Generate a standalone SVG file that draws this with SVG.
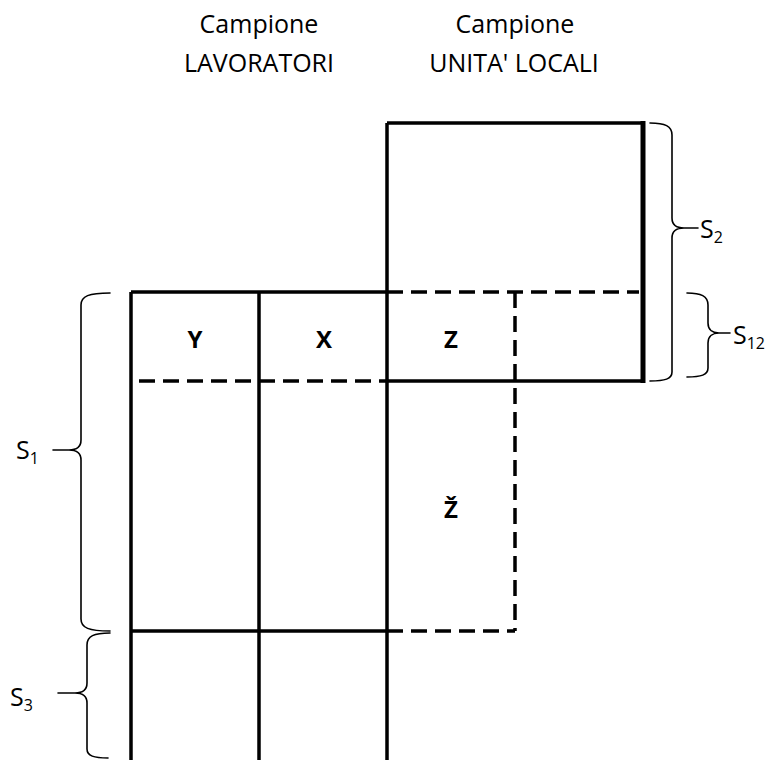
<svg xmlns="http://www.w3.org/2000/svg" width="777" height="760" viewBox="0 0 777 760">
<style>
.t{font-family:"Open Sans","Liberation Sans",sans-serif;font-size:25px;fill:#000}
.b{font-family:"Open Sans","Liberation Sans",sans-serif;font-size:24px;font-weight:bold;fill:#000;text-anchor:middle}
.sub{font-size:16px}
.s{stroke:#000;stroke-width:3.5;fill:none}
.d{stroke:#000;stroke-width:3.5;fill:none;stroke-dasharray:16 8}
.br{stroke:#000;stroke-width:1.6;fill:none;stroke-linecap:round}
</style>
<rect width="777" height="760" fill="#fff"/>
<g id="headers">
<text class="t" x="259" y="33" text-anchor="middle">Campione</text>
<text class="t" x="259" y="72" text-anchor="middle">LAVORATORI</text>
<text class="t" x="515" y="33" text-anchor="middle">Campione</text>
<text class="t" x="514" y="72" text-anchor="middle">UNITA' LOCALI</text>
</g>
<g id="grid">
<path class="s" d="M387,123 H643 M387,123 V760 M131,292 V760 M259,292 V760 M131,292 H387 M387,381 H643 M131,631 H387"/>
<path class="s" d="M643,121 V383" style="stroke-width:5"/>
<path class="d" d="M387,292 H639 M139,381 H387 M515,292 V631 M387,631 H515"/>
</g>
<g id="cell-Y"><text class="b" x="195" y="348">Y</text></g>
<g id="cell-X"><text class="b" x="324" y="348">X</text></g>
<g id="cell-Z"><text class="b" x="451" y="348">Z</text></g>
<g id="cell-Zhat"><text class="b" x="451" y="518">Ž</text></g>
<g id="connectors">
<path class="br" d="M110,293 C89,293 81,296 81,305 L81,440 C81,447 76,450 69,450 L53,450 M69,450 C76,450 81,453 81,460 L81,619 C81,628 89,631 110,631"/>
<path class="br" d="M110,633 C94,633 87,636 87,645 L87,683 C87,690 82,693 75,693 L58,693 M75,693 C82,693 87,696 87,703 L87,749 C87,756 94,758 108,758"/>
<path class="br" d="M650,123 C665,123 672,126 672,135 L672,218 C672,225 677,228 684,228 L698,228 M684,228 C677,228 672,231 672,238 L672,372 C672,379 665,381 650,381"/>
<path class="br" d="M687,293 C701,293 708,296 708,305 L708,323 C708,330 713,333 719,333 L730,333 M719,333 C713,333 708,336 708,343 L708,368 C708,375 701,377 687,377"/>
</g>
<g id="label-S1"><text class="t" x="16" y="459">S<tspan class="sub" dy="5">1</tspan></text></g>
<g id="label-S3"><text class="t" x="10" y="706">S<tspan class="sub" dy="5">3</tspan></text></g>
<g id="label-S2"><text class="t" x="700" y="238">S<tspan class="sub" dy="5">2</tspan></text></g>
<g id="label-S12"><text class="t" x="733" y="344">S<tspan class="sub" dy="5">12</tspan></text></g>
</svg>
